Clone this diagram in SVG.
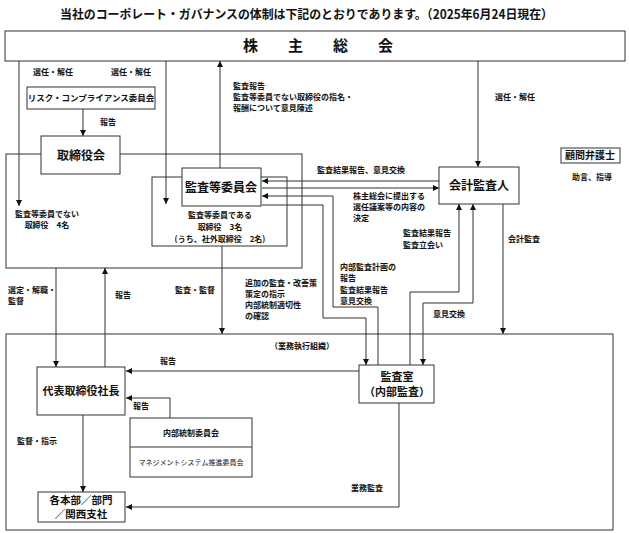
<svg xmlns="http://www.w3.org/2000/svg" width="629" height="533" viewBox="0 0 629 533">
<style>
text{font-family:"Noto Sans CJK JP","Noto Sans CJK SC",sans-serif;fill:#111}
.t{font-size:12.5px;font-weight:bold}
.lbl{font-size:8px;font-weight:bold}
.n{font-size:12px;text-anchor:middle;font-weight:bold}
.box{fill:#fff;stroke:#333;stroke-width:1}
.frame{fill:none;stroke:#333;stroke-width:1}
.c line,.c polyline{fill:none;stroke:#333;stroke-width:1}
.mid{text-anchor:middle}
</style>
<defs>
<marker id="a" viewBox="0 0 10 10" refX="10" refY="5" markerWidth="6" markerHeight="6" orient="auto" markerUnits="userSpaceOnUse">
<path d="M0,0 L10,5 L0,10 z" fill="#111"/>
</marker>
<marker id="s" viewBox="0 0 10 10" refX="0" refY="5" markerWidth="6" markerHeight="6" orient="auto" markerUnits="userSpaceOnUse">
<path d="M10,0 L0,5 L10,10 z" fill="#111"/>
</marker>
</defs>
<rect width="629" height="533" fill="#fff"/>
<text class="t" x="60" y="19" textLength="493" lengthAdjust="spacingAndGlyphs">当社のコーポレート・ガバナンスの体制は下記のとおりであります。（2025年6月24日現在）</text>

<!-- frames -->
<g id="board-area">
<rect class="frame" x="6" y="154" width="296" height="114"/>
</g>
<g id="exec-area">
<rect class="frame" x="6" y="334" width="607" height="196"/>
<text class="lbl mid" x="302" y="349">（業務執行組織）</text>
</g>

<g class="c" id="connectors">
<line x1="19" y1="61" x2="19" y2="206" marker-end="url(#a)"/>
<line x1="166" y1="61" x2="166" y2="204" marker-end="url(#a)"/>
<line x1="220" y1="168" x2="220" y2="61" marker-end="url(#a)"/>
<line x1="478" y1="61" x2="478" y2="167" marker-end="url(#a)"/>
<line x1="83" y1="109" x2="83" y2="136" marker-end="url(#a)"/>
<line x1="439" y1="181" x2="262" y2="181" marker-end="url(#a)"/>
<line x1="262" y1="188" x2="439" y2="188" marker-end="url(#a)"/>
<polyline points="378,365 378,307 333,307 333,196 262,196" marker-end="url(#a)"/>
<polyline points="262,205 323,205 323,318 366,318 366,365" marker-end="url(#a)"/>
<polyline points="410,365 410,292 459,292 459,204" marker-end="url(#a)"/>
<polyline points="423,365 423,303 473,303 473,204" marker-start="url(#s)" marker-end="url(#a)"/>
<line x1="503" y1="204" x2="503" y2="334" marker-end="url(#a)"/>
<line x1="222" y1="246" x2="222" y2="334" marker-end="url(#a)"/>
<line x1="56" y1="268" x2="56" y2="367" marker-end="url(#a)"/>
<line x1="105" y1="367" x2="105" y2="268" marker-end="url(#a)"/>
<line x1="359" y1="371" x2="126" y2="371" marker-end="url(#a)"/>
<polyline points="170,418 170,398 126,398" marker-end="url(#a)"/>
<line x1="83" y1="415" x2="83" y2="492" marker-end="url(#a)"/>
<polyline points="399,403 399,507 126,507" marker-end="url(#a)"/>
</g>

<!-- labels -->
<g id="labels">
<text class="lbl" x="33" y="75">選任・解任</text>
<text class="lbl" x="111" y="75">選任・解任</text>
<text class="lbl" x="100" y="125">報告</text>
<text class="lbl" x="233" y="89">監査報告</text>
<text class="lbl" x="233" y="100">監査等委員でない取締役の指名・</text>
<text class="lbl" x="233" y="111">報酬について意見陳述</text>
<text class="lbl" x="495" y="100">選任・解任</text>
<text class="lbl" x="317" y="173">監査結果報告、意見交換</text>
<text class="lbl" x="353" y="199">株主総会に提出する</text>
<text class="lbl" x="353" y="210">選任議案等の内容の</text>
<text class="lbl" x="353" y="221">決定</text>
<text class="lbl" x="403" y="236">監査結果報告</text>
<text class="lbl" x="403" y="248">監査立会い</text>
<text class="lbl" x="508" y="242">会計監査</text>
<text class="lbl" x="340" y="270">内部監査計画の</text>
<text class="lbl" x="340" y="281">報告</text>
<text class="lbl" x="340" y="293">監査結果報告</text>
<text class="lbl" x="340" y="304">意見交換</text>
<text class="lbl" x="433" y="317">意見交換</text>
<text class="lbl" x="245" y="286">追加の監査・改善策</text>
<text class="lbl" x="245" y="297">策定の指示</text>
<text class="lbl" x="245" y="308">内部統制適切性</text>
<text class="lbl" x="245" y="319">の確認</text>
<text class="lbl" x="175" y="293">監査・監督</text>
<text class="lbl" x="8" y="293">選定・解職・</text>
<text class="lbl" x="8" y="304">監督</text>
<text class="lbl" x="115" y="298">報告</text>
<text class="lbl" x="160" y="364">報告</text>
<text class="lbl" x="133" y="409">報告</text>
<text class="lbl" x="17" y="444">監督・指示</text>
<text class="lbl" x="351" y="491">業務監査</text>
<text class="lbl" x="572" y="180">助言、指導</text>
<text class="lbl mid" x="47" y="217">監査等委員でない</text>
<text class="lbl mid" x="47" y="228">取締役　4名</text>
</g>

<!-- nodes -->
<g id="shareholders">
<rect class="box" x="5" y="31" width="620" height="30"/>
<text class="n" x="318" y="51" style="font-size:15px">株　　主　　総　　会</text>
</g>
<g id="risk-committee">
<rect class="box" x="27" y="87" width="128" height="22"/>
<text class="n" x="91" y="101" style="font-size:8.5px">リスク・コンプライアンス委員会</text>
</g>
<g id="board">
<rect class="box" x="41" y="136" width="79" height="38"/>
<text class="n" x="81" y="160">取締役会</text>
</g>
<g id="audit-committee-members">
<rect class="frame" x="152" y="177" width="135" height="69"/>
<text class="lbl mid" x="220" y="218">監査等委員である</text>
<text class="lbl mid" x="220" y="230">取締役　3名</text>
<text class="lbl mid" x="220" y="242">(うち、社外取締役　2名)</text>
</g>
<g id="audit-committee">
<rect class="box" x="182" y="168" width="79" height="38"/>
<text class="n" x="221" y="192">監査等委員会</text>
</g>
<g id="accounting-auditor">
<rect class="box" x="439" y="167" width="80" height="37"/>
<text class="n" x="479" y="190">会計監査人</text>
</g>
<g id="lawyer">
<rect class="box" x="561" y="148" width="59" height="15"/>
<text class="n" x="590" y="159" style="font-size:10px">顧問弁護士</text>
</g>
<g id="president">
<rect class="box" x="37" y="367" width="88" height="48"/>
<text class="n" x="81" y="395" style="font-size:11px">代表取締役社長</text>
</g>
<g id="internal-audit">
<rect class="box" x="359" y="365" width="75" height="38"/>
<text class="n" x="397" y="381" style="font-size:11px">監査室</text>
<text class="n" x="397" y="396" style="font-size:11px">（内部監査）</text>
</g>
<g id="internal-control">
<rect class="box" x="130" y="418" width="122" height="59"/>
<line x1="130" y1="447" x2="252" y2="447" stroke="#333"/>
<text class="n" x="191" y="436" style="font-size:8px">内部統制委員会</text>
<text class="n" x="191" y="465" style="font-size:7px;font-weight:normal">マネジメントシステム推進委員会</text>
</g>
<g id="divisions">
<rect class="box" x="38" y="492" width="87" height="30"/>
<text class="n" x="81" y="504" style="font-size:10.5px">各本部／部門</text>
<text class="n" x="81" y="518" style="font-size:10.5px">／関西支社</text>
</g>
</svg>
